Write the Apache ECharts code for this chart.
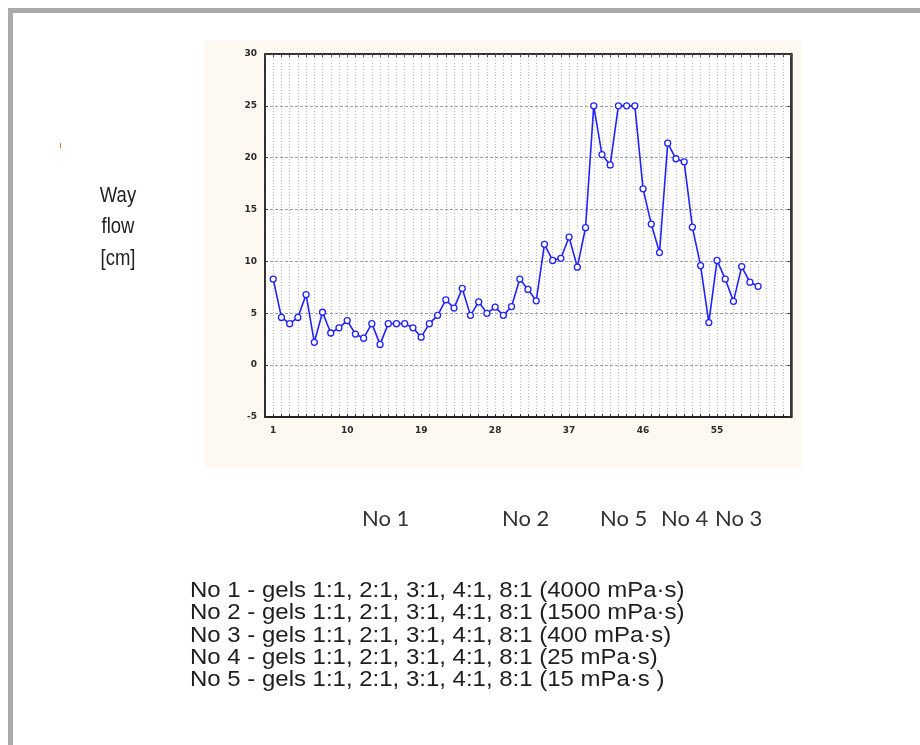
<!DOCTYPE html>
<html>
<head>
<meta charset="utf-8">
<script src="https://cdn.jsdelivr.net/npm/echarts@6/dist/echarts.min.js"></script>
<style>
html,body{margin:0;padding:0;background:#fff;}
#c{width:920px;height:745px;}
</style>
</head>
<body>
<div id="c"></div>
<script>
// ---- data ----
var sampleIndex = [];
for (var k = 1; k <= 60; k++) sampleIndex.push(k);
var wayFlow = [
  8.3, 4.6, 4.0, 4.6, 6.8, 2.2, 5.1, 3.1, 3.6, 4.3,
  3.0, 2.6, 4.0, 2.0, 4.0, 4.0, 4.0, 3.6, 2.7, 4.0,
  4.8, 6.3, 5.5, 7.4, 4.8, 6.1, 5.0, 5.6, 4.8, 5.65,
  8.3, 7.3, 6.2, 11.65, 10.1, 10.3, 12.35, 9.45, 13.25, 25.0,
  20.3, 19.3, 25.0, 25.0, 25.0, 17.0, 13.6, 10.85, 21.4, 19.9,
  19.6, 13.3, 9.6, 4.1, 10.1, 8.3, 6.15, 9.5, 8.0, 7.6
];
var xTickLabels = [1, 10, 19, 28, 37, 46, 55];
var yTicks = [-5, 0, 5, 10, 15, 20, 25, 30];
var yAxisTitle = ['Way', 'flow', '[cm]'];
var groupLabels = ['No 1', 'No 2', 'No 5', 'No 4', 'No 3'];
var legendLines = [
  'No 1 - gels 1:1, 2:1, 3:1, 4:1, 8:1 (4000 mPa\u00b7s)',
  'No 2 - gels 1:1, 2:1, 3:1, 4:1, 8:1 (1500 mPa\u00b7s)',
  'No 3 - gels 1:1, 2:1, 3:1, 4:1, 8:1 (400 mPa\u00b7s)',
  'No 4 - gels 1:1, 2:1, 3:1, 4:1, 8:1 (25 mPa\u00b7s)',
  'No 5 - gels 1:1, 2:1, 3:1, 4:1, 8:1 (15 mPa\u00b7s )'
];

var points = sampleIndex.map(function (x, i) { return [x, wayFlow[i]]; });

var chart = echarts.init(document.getElementById('c'), null, {renderer: 'canvas'});

var graphics = [
  // page frame
  {type: 'rect', shape: {x: 8, y: 8, width: 912, height: 5}, style: {fill: '#a9a9ae'}, z: -10},
  {type: 'rect', shape: {x: 8, y: 8, width: 5, height: 737}, style: {fill: '#a9a9ae'}, z: -10},
  // cream panel
  {type: 'rect', shape: {x: 205, y: 40, width: 597, height: 428}, style: {fill: '#fdf9f0'}, z: -20},
  // tiny orange mark
  {type: 'rect', shape: {x: 60, y: 143, width: 1, height: 5}, style: {fill: '#e07a20'}}
];
var titleY = [196, 227, 259];
yAxisTitle.forEach(function (t, i) {
  graphics.push({type: 'text', x: 118, y: titleY[i], scaleX: 0.84,
    style: {text: t, font: '22px "Liberation Sans", Arial, sans-serif', fill: '#222',
      textAlign: 'center', textVerticalAlign: 'middle'}});
});
var groupX = [362, 502, 600, 661, 715];
groupLabels.forEach(function (t, i) {
  graphics.push({type: 'text', x: groupX[i], y: 519,
    style: {text: t, font: '22px Lato, "Open Sans", sans-serif', fill: '#333',
      textAlign: 'left', textVerticalAlign: 'middle'}});
});
legendLines.forEach(function (t, i) {
  graphics.push({type: 'text', x: 190, y: 591 + i * 22.3, scaleX: 1.09,
    style: {text: t, font: '22px "Liberation Sans", Arial, sans-serif', fill: '#1e1e1e',
      textAlign: 'left', textVerticalAlign: 'middle'}});
});

var labelFont = {fontSize: 9, fontWeight: 'bold', color: '#2a2a2a', fontFamily: 'DejaVu Sans'};

chart.setOption({
  animation: false,
  backgroundColor: '#fff',
  graphic: graphics,
  grid: {left: 265, top: 54, right: 129, bottom: 328, show: true, backgroundColor: '#fff',
    borderColor: '#222', borderWidth: 1.5},
  xAxis: [{
    type: 'value', min: 0, max: 64, interval: 1,
    axisLine: {show: true, onZero: false, lineStyle: {color: '#222', width: 2}},
    axisTick: {show: true, inside: true, length: 3, lineStyle: {color: '#333'}},
    axisLabel: Object.assign({margin: 9, interval: 0,
      formatter: function (v) { return xTickLabels.indexOf(v) >= 0 ? String(v) : ''; }}, labelFont),
    splitLine: {show: true, lineStyle: {color: '#b8b8b8', type: [1, 2], width: 1}}
  }, {
    type: 'value', position: 'top', min: 0, max: 64, interval: 1,
    axisLine: {show: true, onZero: false, lineStyle: {color: '#222', width: 1.5}},
    axisTick: {show: true, inside: true, length: 3, lineStyle: {color: '#555'}},
    axisLabel: {show: false}, splitLine: {show: false}
  }],
  yAxis: [{
    type: 'value', min: -5, max: 30, interval: 5,
    axisLine: {show: true, onZero: false, lineStyle: {color: '#222', width: 1.5}},
    axisTick: {show: true, inside: true, length: 3, lineStyle: {color: '#333'}},
    axisLabel: Object.assign({margin: 8,
      formatter: function (v) { return yTicks.indexOf(v) >= 0 ? String(v) : ''; }}, labelFont),
    splitLine: {show: true, lineStyle: {color: '#a0a0a0', type: [3, 2], width: 1}}
  }, {
    type: 'value', position: 'right', min: -5, max: 30, interval: 5,
    axisLine: {show: true, onZero: false, lineStyle: {color: '#333', width: 2.5}},
    axisTick: {show: true, inside: true, length: 3, lineStyle: {color: '#333'}},
    axisLabel: {show: false}, splitLine: {show: false}
  }],
  series: [{
    type: 'line',
    data: points,
    xAxisIndex: 0, yAxisIndex: 0,
    symbol: 'circle', symbolSize: 6, showAllSymbol: true,
    lineStyle: {color: '#2222ff', width: 1.6},
    itemStyle: {color: '#fff', borderColor: '#2222ff', borderWidth: 1.3},
    z: 5
  }]
});
</script>
</body>
</html>
